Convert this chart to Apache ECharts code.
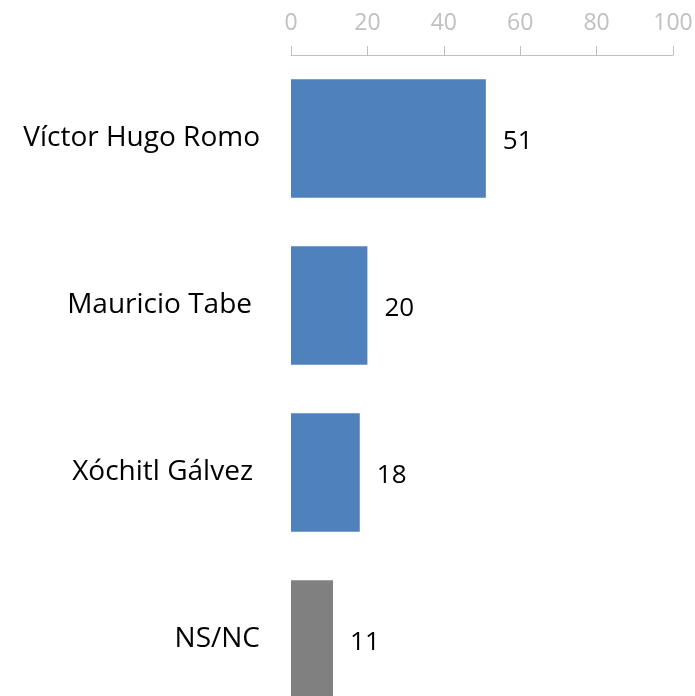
<!DOCTYPE html>
<html>
<head>
<meta charset="utf-8">
<script src="https://cdn.jsdelivr.net/npm/echarts@6/dist/echarts.min.js"></script>
<style>
  html, body { margin: 0; padding: 0; background: #fff; }
  #chart { width: 695px; height: 696px; }
</style>
</head>
<body>
<div id="chart"></div>
<script>
const candidates = ['Víctor Hugo Romo', 'Mauricio Tabe', 'Xóchitl Gálvez', 'NS/NC']
const votes = [51, 20, 18, 11]
const barColors = ['#4F81BD', '#4F81BD', '#4F81BD', '#808080']
const tickValues = [0, 20, 40, 60, 80, 100]

// two of the names sit a bit left of the others in the original
const labelPadRight = [0, 8, 7, 0]

const chart = echarts.init(document.getElementById('chart'))

chart.setOption({
  animation: false,
  textStyle: { fontFamily: 'Open Sans' },
  grid: { left: 291, right: 22, top: 55, height: 668, outerBoundsMode: 'none' },
  xAxis: {
    type: 'value',
    position: 'top',
    min: tickValues[0],
    max: tickValues[tickValues.length - 1],
    interval: 20,
    splitLine: { show: false },
    axisLine: { show: true, lineStyle: { color: '#bfbfbf', width: 1 } },
    axisTick: { show: true, length: 9, lineStyle: { color: '#bfbfbf' } },
    axisLabel: { color: '#c0c0c0', fontSize: 23, margin: 20 }
  },
  yAxis: {
    type: 'category',
    inverse: true,
    data: candidates.map((c, i) => ({
      value: c,
      textStyle: { padding: [8, labelPadRight[i], 0, 0] }
    })),
    axisLine: { show: false },
    axisTick: { show: false },
    axisLabel: { color: '#000', fontSize: 28, margin: 31 }
  },
  series: [{
    type: 'bar',
    barCategoryGap: '29%',
    data: votes.map((v, i) => ({ value: v, itemStyle: { color: barColors[i] } })),
    label: {
      show: true,
      position: 'right',
      distance: 17,
      offset: [0, 3],
      color: '#000',
      fontSize: 26
    }
  }]
})
</script>
</body>
</html>
